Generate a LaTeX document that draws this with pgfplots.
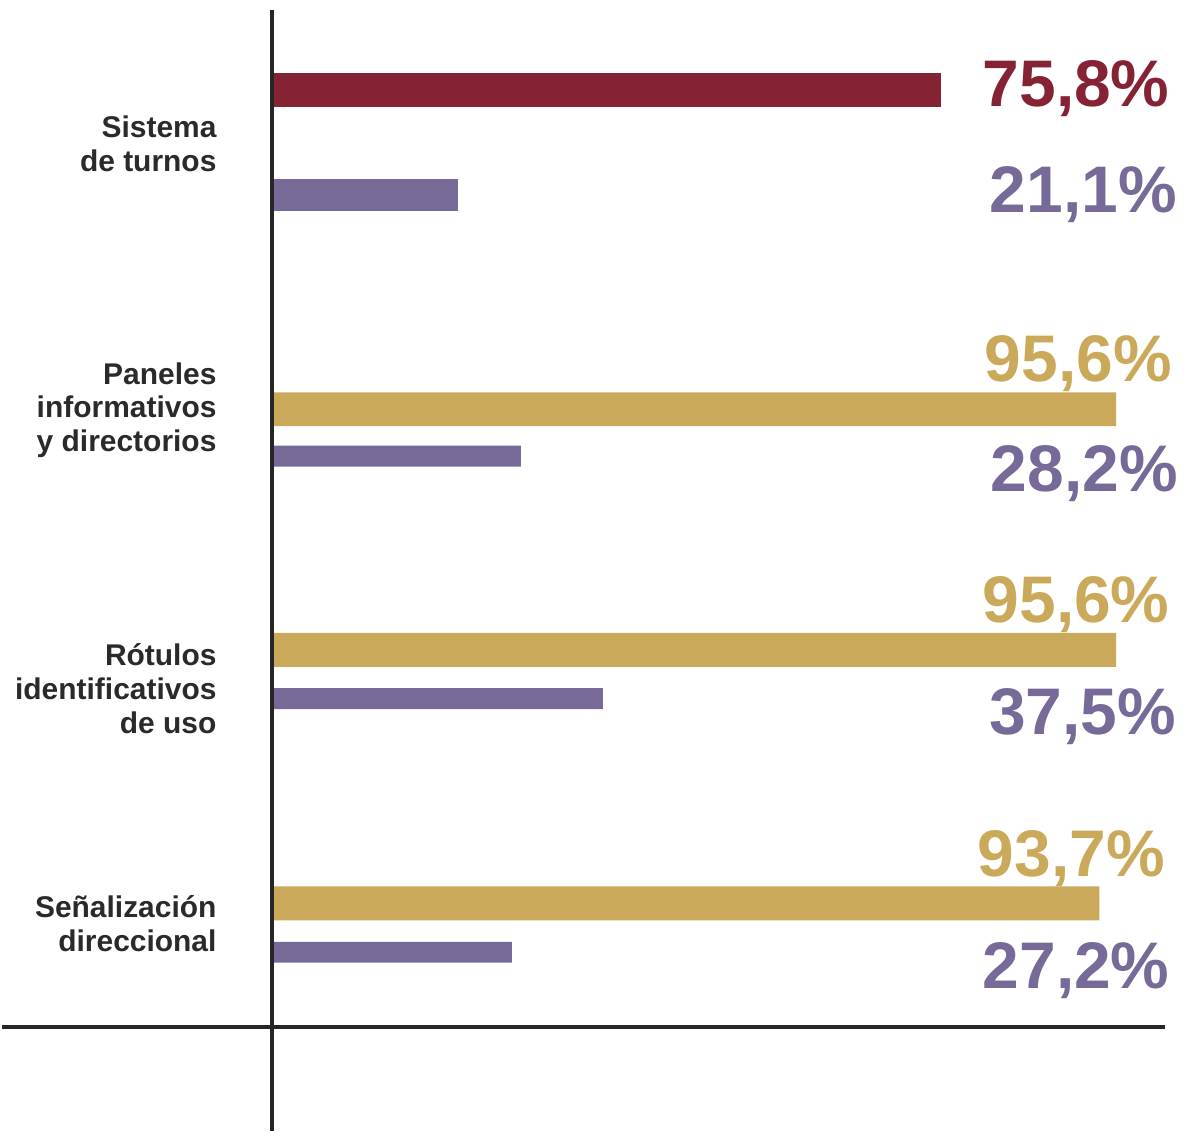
\documentclass[border=0pt]{standalone}
\usepackage{pgfplots}
\pgfplotsset{compat=1.18}
\usepackage{fontspec}
\setmainfont{Liberation Sans}
\definecolor{cred}{HTML}{852233}
\definecolor{cpur}{HTML}{786A98}
\definecolor{cgold}{HTML}{CAAA5A}
\definecolor{cline}{HTML}{262626}
\definecolor{ctext}{HTML}{2A2A2A}
\begin{document}
\begin{tikzpicture}
\begin{axis}[
  scale only axis, width=592pt, height=566.5pt,
  xmin=-30.51, xmax=103.28, ymin=0, ymax=1133,
  hide axis, clip=false,
  xbar, bar shift=0pt,
]
\path (rel axis cs:0,0) rectangle (rel axis cs:1,1);
\addplot[fill=cred, draw=none, bar width=34] coordinates {(75.8,1043)};
\addplot[fill=cgold, draw=none, bar width=34] coordinates {(95.6,723) (95.6,482) (93.7,228)};
\addplot[fill=cpur, draw=none, bar width=32] coordinates {(21.1,938)};
\addplot[fill=cpur, draw=none, bar width=21] coordinates {(28.2,676) (37.5,433) (27.2,179)};
% axis lines
\draw[line width=2.2pt, cline] (axis cs:0,0) -- (axis cs:0,1123);
\draw[line width=2.2pt, cline] (axis cs:-30.51,104) -- (axis cs:101.13,104);
% category labels
\begin{scope}[every node/.style={anchor=east, align=right, inner sep=0pt, text=ctext, font=\fontsize{15pt}{17pt}\selectfont\bfseries}]
\node at (axis cs:-6.21,989) {Sistema\\de turnos};
\node at (axis cs:-6.21,722) {Paneles\\informativos\\y directorios};
\node at (axis cs:-6.21,443) {Rótulos\\identificativos\\de uso};
\node at (axis cs:-6.21,208) {Señalización\\direccional};
\end{scope}
% value labels
\begin{scope}[every node/.style={anchor=base east, inner sep=0pt, font=\fontsize{33pt}{36pt}\selectfont\bfseries}]
\node[text=cred]  at (axis cs:101.69,1026) {75,8\%};
\node[text=cpur]  at (axis cs:102.5,920) {21,1\%};
\node[text=cgold] at (axis cs:101.92,751) {95,6\%};
\node[text=cpur]  at (axis cs:102.6,641) {28,2\%};
\node[text=cgold] at (axis cs:101.69,509) {95,6\%};
\node[text=cpur]  at (axis cs:102.4,397) {37,5\%};
\node[text=cgold] at (axis cs:101.13,255) {93,7\%};
\node[text=cpur]  at (axis cs:101.69,143) {27,2\%};
\end{scope}
\end{axis}
\end{tikzpicture}
\end{document}
